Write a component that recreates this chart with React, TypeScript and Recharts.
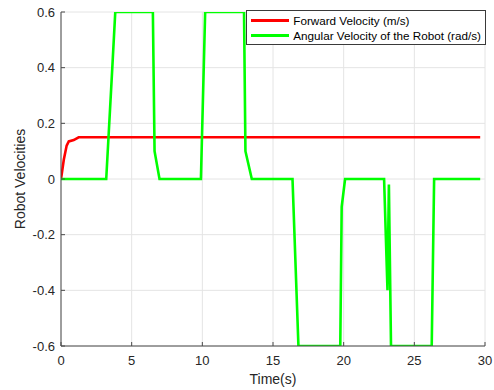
import React from 'react';
import { LineChart, Line, XAxis, YAxis, CartesianGrid, Legend } from 'recharts';

const xTicks = [0, 5, 10, 15, 20, 25, 30];
const yTicks = [-0.6, -0.4, -0.2, 0, 0.2, 0.4, 0.6];

const seriesNames = ['Forward Velocity (m/s)', 'Angular Velocity of the Robot (rad/s)'];
const seriesColors = ['#ff0000', '#00ff00'];

const forwardTime = [0, 0.2, 0.4, 0.55, 0.9, 1.25, 29.66];
const forwardValue = [0, 0.07, 0.12, 0.135, 0.14, 0.15, 0.15];

const angularTime = [
  0, 3.2, 3.63, 3.84, 6.5, 6.62, 6.97, 9.9, 10.2, 12.95, 13.05, 13.5,
  16.38, 16.8, 19.76, 19.86, 20.1, 22.86, 23.1, 23.2, 23.35, 26.23, 26.4, 29.66,
];
const angularValue = [
  0, 0, 0.4, 0.6, 0.6, 0.1, 0, 0, 0.6, 0.6, 0.1, 0,
  0, -0.6, -0.6, -0.1, 0, 0, -0.4, -0.02, -0.6, -0.6, 0, 0,
];

const forwardData = forwardTime.map((t, i) => ({ t, v: forwardValue[i] }));
const angularData = angularTime.map((t, i) => ({ t, v: angularValue[i] }));

const FONT = '"Liberation Sans", Arial, Helvetica, sans-serif';
const TEXT = '#262626';
const AXIS = '#4a4a4a';

const LegendBox = () => (
  <div
    style={{
      border: '1px solid #3a3a3a',
      background: '#ffffff',
      padding: '2px 4px 1px 4px',
      fontFamily: FONT,
      fontSize: 11.7,
      color: '#000',
      lineHeight: '15px',
      whiteSpace: 'nowrap',
    }}
  >
    {seriesNames.map((name, i) => (
      <div key={name} style={{ display: 'flex', alignItems: 'center', height: 15 }}>
        <span
          style={{
            display: 'inline-block',
            width: 38,
            height: 0,
            borderTop: `3px solid ${seriesColors[i]}`,
            marginRight: 4,
          }}
        />
        <span>{name}</span>
      </div>
    ))}
  </div>
);

const YLabel = (props: any) => {
  const vb = props.viewBox || { x: 0, y: 0, width: 0, height: 0 };
  const cx = vb.x + 20;
  const cy = vb.y + vb.height / 2;
  return (
    <text
      x={cx}
      y={cy}
      transform={`rotate(-90 ${cx} ${cy})`}
      textAnchor="middle"
      dominantBaseline="central"
      fontFamily={FONT}
      fontSize={14}
      fill={TEXT}
    >
      Robot Velocities
    </text>
  );
};

const XLabel = (props: any) => {
  const vb = props.viewBox || { x: 0, y: 0, width: 0, height: 0 };
  const cx = vb.x + vb.width / 2;
  const cy = vb.y + 33;
  return (
    <text x={cx} y={cy} textAnchor="middle" dominantBaseline="central" fontFamily={FONT} fontSize={14} fill={TEXT}>
      Time(s)
    </text>
  );
};

const tickStyle = { fill: TEXT, fontSize: 13, fontFamily: FONT };

export default function App() {
  return (
    <div style={{ position: 'absolute', left: 0, top: 0, background: '#fff' }}>
      <LineChart width={494} height={390} margin={{ top: 12, right: 9, bottom: 0, left: 0 }}>
        <CartesianGrid stroke="#e4e4e4" strokeWidth={1} />
        <XAxis
          dataKey="t"
          type="number"
          domain={[0, 30]}
          ticks={xTicks}
          height={44}
          stroke={AXIS}
          tick={tickStyle}
          tickSize={-4}
          tickMargin={14}
          allowDataOverflow
          label={{ content: XLabel }}
        />
        <XAxis
          xAxisId="top"
          orientation="top"
          type="number"
          domain={[0, 30]}
          ticks={xTicks}
          height={0}
          stroke={AXIS}
          tick={false}
          tickSize={-4}
          allowDataOverflow
        />
        <YAxis
          type="number"
          domain={[-0.6, 0.6]}
          ticks={yTicks}
          width={61}
          stroke={AXIS}
          tick={tickStyle}
          tickSize={-4}
          tickMargin={10}
          allowDataOverflow
          label={{ content: YLabel }}
        />
        <YAxis
          yAxisId="right"
          orientation="right"
          type="number"
          domain={[-0.6, 0.6]}
          ticks={yTicks}
          width={0}
          stroke={AXIS}
          tick={false}
          tickSize={-4}
          allowDataOverflow
        />
        <Legend
          layout="vertical"
          align="center"
          verticalAlign="middle"
          content={LegendBox}
          wrapperStyle={{ top: 10, right: 8, left: 'auto', width: 'auto' }}
        />
        <Line
          data={forwardData}
          dataKey="v"
          name={seriesNames[0]}
          stroke={seriesColors[0]}
          strokeWidth={2.6}
          dot={false}
          activeDot={false}
          type="linear"
          isAnimationActive={false}
        />
        <Line
          data={angularData}
          dataKey="v"
          name={seriesNames[1]}
          stroke={seriesColors[1]}
          strokeWidth={2.6}
          dot={false}
          activeDot={false}
          type="linear"
          isAnimationActive={false}
        />
      </LineChart>
    </div>
  );
}
